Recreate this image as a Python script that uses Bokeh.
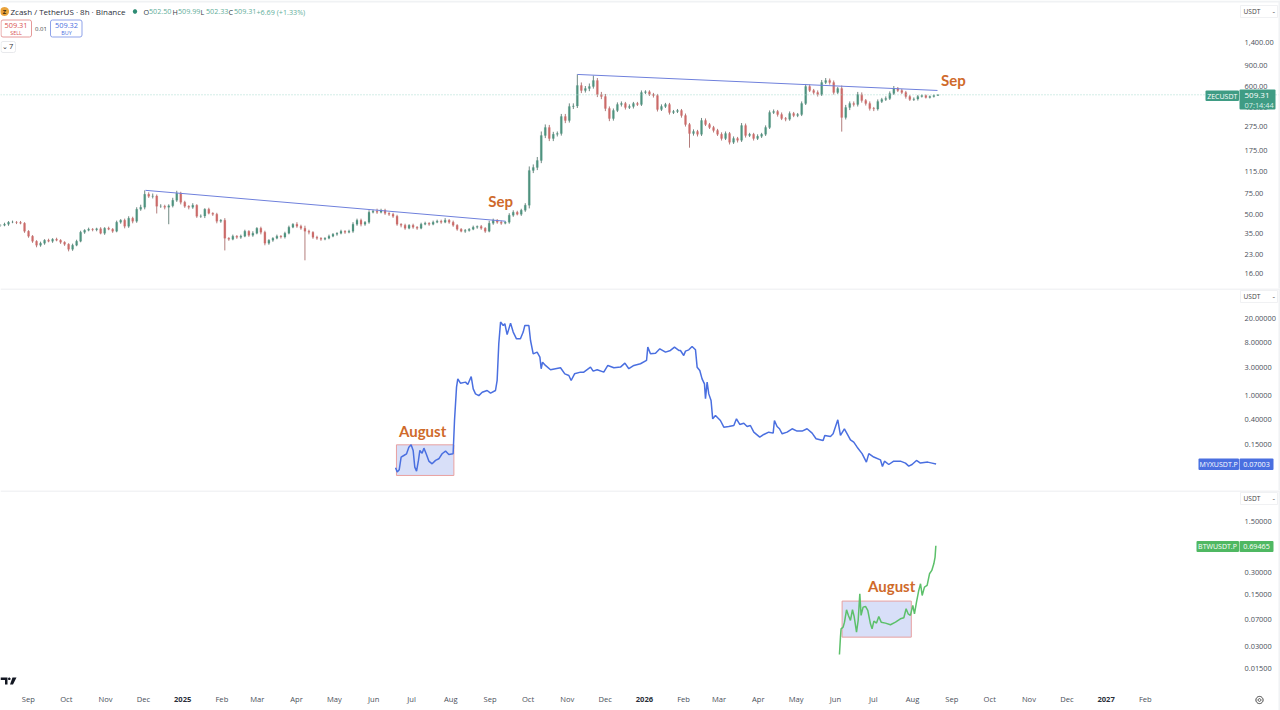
import numpy as np
import pandas as pd
from bokeh.embed import file_html
from bokeh.layouts import column
from bokeh.models import (BoxAnnotation, ColumnDataSource, FixedTicker, Label, NumeralTickFormatter,
                          PolyAnnotation, Range1d, Span)
from bokeh.plotting import figure
from bokeh.resources import INLINE
from bokeh.core.properties import value

# ---------------------------------------------------------------- data
start_date = "2024-08-10"
candle_hours = 76

zec_close = [
    40.9, 41.7, 43.4, 43.4, 43.1, 42.5, 36.4, 33.1, 30.0, 27.8,
    28.9, 30.6, 30.0, 31.2, 30.6, 29.4, 28.3, 25.7, 27.8, 30.0,
    35.7, 37.1, 37.9, 37.5, 38.2, 35.0, 38.6, 37.9, 36.4, 43.4,
    45.1, 40.1, 46.8, 44.2, 55.7, 57.9, 74.3, 71.5, 71.9, 59.0,
    59.0, 57.9, 59.5, 66.2, 75.8, 63.7, 59.0, 57.9, 60.2, 48.6,
    48.9, 55.7, 51.5, 50.5, 44.2, 45.1, 31.8, 31.2, 33.1, 32.4,
    33.1, 36.4, 33.7, 35.0, 38.6, 35.7, 28.9, 30.6, 31.8, 33.1,
    32.6, 35.0, 39.4, 41.7, 40.1, 38.6, 36.4, 35.7, 32.4, 31.8,
    31.2, 31.8, 33.1, 34.4, 35.0, 36.4, 35.7, 36.4, 41.7, 45.1,
    41.7, 43.4, 52.5, 53.6, 52.5, 54.6, 51.5, 50.5, 48.6, 41.7,
    40.9, 38.6, 40.9, 39.4, 38.6, 41.7, 42.5, 41.7, 43.4, 44.2,
    43.4, 45.1, 43.4, 40.9, 37.9, 36.4, 36.9, 37.9, 39.4, 39.9,
    38.6, 36.4, 42.5, 45.1, 43.4, 42.5, 43.4, 49.6, 52.5, 50.5,
    54.6, 60.2, 118, 125, 143, 232, 271, 219, 237, 241,
    335, 310, 407, 411, 610, 554, 575, 598, 671, 513,
    493, 391, 322, 376, 423, 431, 399, 407, 431, 423,
    533, 540, 513, 503, 384, 407, 423, 362, 369, 376,
    341, 287, 241, 251, 237, 310, 287, 271, 256, 237,
    219, 241, 203, 219, 211, 281, 232, 237, 219, 228,
    237, 271, 362, 369, 348, 322, 318, 355, 341, 348,
    431, 598, 554, 533, 513, 646, 671, 646, 533, 575,
    329, 399, 431, 423, 513, 456, 431, 391, 387, 448,
    466, 475, 523, 575, 554, 533, 493, 466, 470, 493,
    503, 484, 493, 503, 509.31,
]
zec_upper_wick_pct = [
    2, 3, 2, 3, 2, 3, 2, 2, 2, 2,
    3, 2, 3, 2, 3, 2, 2, 2, 3, 3,
    3, 2, 3, 2, 2, 3, 2, 3, 2, 3,
    2, 3, 4, 3, 4, 5, 8, 4, 5, 3,
    4, 3, 3, 5, 5, 3, 3, 2, 4, 2,
    3, 2, 3, 2, 3, 2, 4, 2, 3, 2,
    3, 3, 2, 4, 2, 3, 3, 2, 2, 3,
    2, 3, 3, 2, 4, 3, 5, 3, 2, 3,
    2, 2, 3, 2, 2, 3, 2, 3, 4, 3,
    3, 2, 4, 3, 5, 3, 3, 2, 3, 3,
    2, 3, 2, 3, 2, 3, 3, 2, 3, 3,
    3, 4, 2, 3, 2, 2, 3, 2, 3, 2,
    3, 2, 5, 3, 2, 3, 2, 4, 4, 3,
    3, 4, 8, 6, 7, 8, 6, 5, 5, 4,
    5, 5, 6, 5, 24, 6, 5, 6, 10, 5,
    5, 5, 4, 4, 4, 4, 3, 4, 3, 3,
    4, 3, 3, 3, 3, 4, 3, 3, 3, 3,
    3, 4, 3, 4, 3, 5, 4, 3, 3, 3,
    4, 4, 3, 4, 3, 5, 4, 3, 3, 4,
    3, 4, 4, 4, 3, 4, 3, 4, 3, 3,
    4, 5, 4, 3, 4, 5, 5, 4, 4, 3,
    6, 5, 4, 4, 5, 4, 3, 4, 3, 4,
    3, 4, 4, 5, 3, 3, 3, 3, 3, 3,
    2, 2, 2, 2, 1,
]
zec_lower_wick_pct = [
    3, 2, 3, 2, 3, 2, 3, 3, 3, 4,
    3, 3, 2, 3, 2, 3, 3, 4, 3, 2,
    2, 3, 2, 3, 3, 2, 3, 2, 3, 2,
    3, 4, 3, 4, 3, 3, 4, 3, 4, 13,
    3, 4, 28, 3, 3, 4, 3, 4, 3, 3,
    3, 4, 2, 3, 4, 3, 21, 3, 2, 3,
    3, 2, 3, 3, 2, 4, 4, 3, 3, 2,
    3, 3, 2, 2, 3, 3, 43, 4, 3, 3,
    3, 2, 2, 2, 3, 2, 3, 2, 3, 3,
    4, 3, 3, 2, 3, 2, 3, 3, 3, 3,
    4, 3, 2, 3, 3, 2, 2, 3, 2, 2,
    3, 2, 3, 3, 3, 2, 3, 2, 2, 3,
    3, 3, 2, 3, 3, 3, 2, 3, 3, 2,
    3, 3, 6, 5, 5, 5, 5, 5, 5, 4,
    4, 5, 4, 5, 4, 5, 4, 5, 4, 5,
    5, 5, 5, 4, 3, 4, 4, 3, 4, 3,
    3, 3, 3, 4, 4, 3, 3, 4, 3, 3,
    4, 4, 24, 4, 4, 3, 3, 3, 4, 3,
    4, 3, 4, 3, 4, 3, 4, 3, 4, 3,
    3, 3, 3, 3, 4, 3, 4, 3, 3, 3,
    3, 3, 3, 4, 4, 3, 3, 4, 4, 3,
    24, 4, 5, 4, 4, 4, 4, 4, 4, 3,
    3, 3, 3, 3, 3, 3, 4, 3, 3, 3,
    2, 2, 2, 2, 1,
]
trend1_days = [114.6, 399.2]
trend1_price = [80.3, 44.2]
trend2_days = [456.0, 740.7]
trend2_price = [755, 554]

myx_days = [
    312.3, 313.6, 315.2, 316.7, 318.8, 321, 322.8, 324.6, 326.2, 327.5, 328.9, 330.4, 331.5, 333.3, 334.7,
    336.5, 338.6, 341.2, 343.9, 346.5, 349.1, 351.8, 354.4, 357.8, 358.9, 360.5, 361.5, 363.6, 367.6, 369.4,
    372.1, 373.7, 375.5, 378.1, 380.8, 384.7, 387.4, 391.3, 392.6, 393.9, 395.3, 397.4, 398.7, 400.5, 403.2,
    405.3, 407.9, 411, 413.2, 414.5, 417.7, 419, 421.1, 424.2, 426.4, 427.4, 428.5, 430.8, 434.8, 438.7,
    442.7, 446.1, 449.3, 451.1, 453.8, 458.5, 461.1, 466.4, 468.5, 471.7, 476.9, 480.1, 484.9, 490.1, 493.6,
    496.7, 500.7, 505.9, 510.7, 511.7, 513.8, 517.8, 521.2, 525.7, 529.6, 532.8, 536.2,
    537.5, 540.1, 541.5, 544.1, 546.7, 549.4, 550.7, 552.8, 554.6, 556.5, 557.3, 558.6, 559.9, 561.7, 563,
    565.2, 569.1, 571.8, 575.7, 579.7, 581.8, 584.4, 587.6, 590.2, 592.8, 595.5, 600.2, 603.4, 607.3, 610.8,
    611.8, 613.9, 615.8, 617.9, 621.8, 625.8, 629.7, 633.7, 637.6, 641.6, 644.7, 650.3, 651.6, 656.1, 658.2,
    661.9, 664, 667.1, 669.3, 671.9, 674.5, 677.2, 681.1, 684.5, 686.4, 690.3, 695.6, 697.2, 698.8, 702.2,
    706.1, 711.4, 715.4, 718, 720.6, 724.1, 727.2, 733, 736.4, 739.6,
]
myx_price = [
    .0606, .0513, .0562, .0918, .0977, .1045, .135, .148, .119, .0622, .0532, .0808, .119, .107, .130,
    .1045, .0787, .0707, .0808, .086, .1045, .116, .1016, .1045, .381, 1.39, 1.92, 1.62, 1.69, 1.54,
    2.10, 1.30, 1.07, 1.00, 1.14, 1.22, 1.10, 1.22, 1.80, 7.48, 17.4, 15.2, 16.3, 10.7, 16.7,
    11.8, 9.08, 9.08, 11.8, 15.2, 15.2, 8.5, 5.07, 5.42, 4.46, 2.84, 3.67, 3.23, 2.73, 2.84,
    2.95, 2.33, 2.19, 1.80, 2.33, 2.49, 2.49, 3.03, 2.59, 2.73, 2.49, 3.23, 2.95, 3.03, 3.53,
    2.84, 3.23, 3.45, 3.92, 6.57, 5.07, 5.20, 6.16, 5.42, 5.78, 6.57, 5.78,
    5.77, 4.75, 5.63, 5.92, 6.74, 5.92, 3.02, 2.65, 1.92, 1.58, .885, 1.69, 1.07, .828, .406,
    .462, .381, .294, .301, .313, .406, .326, .343, .301, .313, .242, .199, .221, .242, .233,
    .381, .301, .276, .227, .242, .276, .252, .252, .276, .233, .187, .175, .213, .205, .227,
    .391, .213, .276, .227, .180, .164, .135, .105, .0756, .105, .092, .0826, .0638, .0785, .0689,
    .0785, .0785, .0727, .0647, .0689, .0806, .0727, .0756, .0727, .07003,
]
btw_days = [
    663.2, 664, 664.5, 666.1, 667.2, 668.8, 670.3, 671.9, 673.5, 674.8, 676.7, 678, 679.3, 680.3, 681.9,
    683.8, 685.6, 687.7, 689, 690.4, 692.5, 694.3, 696.2, 699.6, 703.5, 707.5, 711.4, 714.1, 715.9, 717.5,
    719.3, 721.2, 722.5, 724.1, 725.9, 727.3, 728.6, 730.4, 732.5, 734.4, 736.2, 737.8, 738.8, 739.4,
]
btw_price = [
    .0233, .0400, .0519, .0547, .0639, .0941, .0788, .0674, .0941, .0764, .0468, .0674, .1551, .0788, .1022,
    .1044, .0921, .0607, .0519, .0660, .0620, .0764, .0639, .0620, .0589, .0639, .0709, .0732, .0971, .0829,
    .0788, .1077, .0829, .1195, .1721, .212, .1472, .191, .2012, .2897, .3215, .396, .488, .69465,
]
myx_box_days = [313.0, 358.4]
myx_box_price = [.045, .148]
btw_box_days = [665.3, 720.0]
btw_box_price = [.04, .1234]

zec_ticks = [16, 23, 35, 50, 75, 115, 175, 275, 400, 600, 900, 1400]
myx_ticks = [.15, .4, 1, 3, 8, 20]
btw_ticks = [.015, .03, .07, .15, .3, 1.5]
month_dates = ["2024-09-01", "2024-10-01", "2024-11-01", "2024-12-01", "2025-01-01", "2025-02-01", "2025-03-01",
               "2025-04-01", "2025-05-01", "2025-06-01", "2025-07-01", "2025-08-01", "2025-09-01", "2025-10-01",
               "2025-11-01", "2025-12-01", "2026-01-01", "2026-02-01", "2026-03-01", "2026-04-01", "2026-05-01",
               "2026-06-01", "2026-07-01", "2026-08-01", "2026-09-01", "2026-10-01", "2026-11-01", "2026-12-01",
               "2027-01-01", "2027-02-01"]
month_labels = ["Sep", "Oct", "Nov", "Dec", "2025", "Feb", "Mar", "Apr", "May", "Jun", "Jul", "Aug", "Sep", "Oct",
                "Nov", "Dec", "2026", "Feb", "Mar", "Apr", "May", "Jun", "Jul", "Aug", "Sep", "Oct", "Nov", "Dec",
                "2027", "Feb"]

# ---------------------------------------------------------------- helpers
DAY_MS = 86400000.0
T0 = pd.Timestamp(start_date).value / 1e6
PX_PER_DAY = 1.265
FRAME_W = 1280
SCALE_X = 1238
FONT = "Open Sans"
TICK_COLOR = "#4a4f5a"
ORANGE = "#cf6a2b"
BLUE = "#4a6fe0"
GREEN = "#5cc06a"
TEAL = "#3f9c84"


def ms(days):
    return T0 + np.asarray(days, dtype=float) * DAY_MS


shared_x = Range1d(float(ms(0)), float(ms(FRAME_W / PX_PER_DAY)))
scale_location = float(ms(SCALE_X / PX_PER_DAY))


def make_pane(top, bottom, y_top, y_bottom, ticks, fmt, with_axis=False):
    fig = figure(frame_width=FRAME_W, frame_height=bottom - top,
                 x_range=shared_x, y_range=Range1d(y_bottom, y_top), y_axis_type="log", y_axis_location="right",
                 x_axis_type="datetime", x_axis_location="below" if with_axis else None,
                 toolbar_location=None, output_backend="svg", min_border_left=0, min_border_right=0,
                 min_border_top=0, min_border_bottom=0, background_fill_color="white")
    fig.outline_line_color = None
    fig.grid.visible = False
    ax = fig.yaxis[0]
    ax.fixed_location = scale_location
    ax.ticker = FixedTicker(ticks=ticks)
    ax.formatter = NumeralTickFormatter(format=fmt)
    ax.axis_line_color = None
    ax.major_tick_line_color = None
    ax.minor_tick_line_color = None
    ax.major_label_standoff = 0
    ax.major_label_text_font = FONT
    ax.major_label_text_font_size = "7.4px"
    ax.major_label_text_color = TICK_COLOR
    return fig


def txt(fig, top, bottom, x, y, s, size="8px", color="#333333", align="left", style="normal", font=FONT):
    fig.add_layout(Label(x=x, y=(bottom - top) - (y - top), x_units="screen", y_units="screen", text=s,
                         text_font=font, text_font_size=size, text_color=color, text_align=align,
                         text_baseline="middle", text_font_style=style))


def box(fig, top, bottom, x0, x1, y0, y1, fill=None, line=None, radius=0, width=1):
    fig.add_layout(BoxAnnotation(left=x0, right=x1, top=(bottom - top) - (y0 - top), bottom=(bottom - top) - (y1 - top),
                                 left_units="screen", right_units="screen", top_units="screen", bottom_units="screen",
                                 fill_color=fill, fill_alpha=1 if fill else 0, line_color=line, line_alpha=1 if line else 0,
                                 line_width=width, border_radius=radius, level="annotation"))


def poly(fig, top, bottom, xs, ys, fill=None, line=None):
    fig.add_layout(PolyAnnotation(xs=[float(v) for v in xs], ys=[float((bottom - top) - (v - top)) for v in ys],
                                  xs_units="screen", ys_units="screen",
                                  fill_color=fill, fill_alpha=1 if fill else 0, line_color=line, line_alpha=1 if line else 0,
                                  line_width=1, level="annotation"))


def ring(cx, cy, r):
    a = np.linspace(0, 2 * np.pi, 25)
    return cx + r * np.cos(a), cy + r * np.sin(a)


def currency(fig, top, bottom, y):
    box(fig, top, bottom, 1240, 1277, y - 6, y + 6, line="#f0f1f3")
    txt(fig, top, bottom, 1243, y, "USDT", size="6.6px", color="#444444")
    txt(fig, top, bottom, 1272, y, "-", size="8px", color="#444444")


# ---------------------------------------------------------------- pane 1: ZEC candles
T1, B1 = 0, 288
p1 = make_pane(T1, B1, 3155, 12.03, zec_ticks, "0,0.00")
close = np.array(zec_close, dtype=float)
open_ = np.r_[close[0], close[:-1]]
high = np.maximum(open_, close) * (1 + np.array(zec_upper_wick_pct) / 100)
low = np.minimum(open_, close) * (1 - np.array(zec_lower_wick_pct) / 100)
step_days = candle_hours / 24
cx = ms(np.arange(len(close)) * step_days)
candle_w = step_days * DAY_MS * 0.5
up = close >= open_
src = ColumnDataSource(dict(x=cx, open=open_, close=close, high=high, low=low,
                            color=["#4f937f" if u else "#cc6b69" for u in up],
                            wick=["#4a6a62" if u else "#a05c5b" for u in up]))
p1.segment("x", "high", "x", "low", color="wick", line_width=0.8, source=src)
p1.vbar("x", candle_w, "open", "close", fill_color="color", line_color="color", line_width=0.2, source=src)
p1.line(ms(trend1_days), trend1_price, line_color="#6f80dc", line_width=1)
p1.line(ms(trend2_days), trend2_price, line_color="#6f80dc", line_width=1)
p1.add_layout(Span(location=509.31, dimension="width", line_color="#a5dacd", line_dash="1 2", line_width=1))
for x_day, price, label in [(385.6, 65.0, "Sep"), (743.5, 672, "Sep")]:
    p1.text([float(ms(x_day))], [price], text=[label], text_font=value("Lato"), text_font_style="bold",
            text_font_size="15px", text_color=ORANGE, text_baseline="middle")

box(p1, T1, B1, 0, 1280, 0, 2, fill="#f0f2f4")
box(p1, T1, B1, 1278, 1280, 0, 288, fill="#f0f2f4")
# header
xs, ys = ring(4, 11, 4.5)
poly(p1, T1, B1, xs, ys, fill="#e9a23b")
txt(p1, T1, B1, 2.2, 11, "Z", size="6px", color="#3a2a10", style="bold")
txt(p1, T1, B1, 10, 11, "Zcash / TetherUS · 8h · Binance", size="8px", color="#2a2e39")
xs, ys = ring(134.5, 11, 2.2)
poly(p1, T1, B1, xs, ys, fill="#2e8c74")
for x, lab, val in [(143, "O", "502.50"), (172, "H", "509.99"), (200, "L", "502.33"), (228, "C", "509.31")]:
    txt(p1, T1, B1, x, 11, lab, size="7.2px", color="#333b44")
    txt(p1, T1, B1, x + 5.5, 11, val, size="7.2px", color="#5fae9a")
txt(p1, T1, B1, 256, 11, "+6.69 (+1.33%)", size="7.2px", color="#5fae9a")
box(p1, T1, B1, 0.5, 31, 19.5, 36.5, fill="white", line="#e59a9a", radius=2)
txt(p1, T1, B1, 15.5, 24.5, "509.31", size="7.4px", color="#d9534f", align="center")
txt(p1, T1, B1, 15.5, 32, "SELL", size="5.4px", color="#d9534f", align="center")
txt(p1, T1, B1, 40.5, 28, "0.01", size="6px", color="#444444", align="center")
box(p1, T1, B1, 50, 81.5, 19.5, 36.5, fill="white", line="#8fa3ea", radius=2)
txt(p1, T1, B1, 66, 24.5, "509.32", size="7.4px", color="#4a6fe0", align="center")
txt(p1, T1, B1, 66, 32, "BUY", size="5.4px", color="#4a6fe0", align="center")
box(p1, T1, B1, 0.5, 15, 41, 52, fill="white", line="#e8e9ec", radius=2)
txt(p1, T1, B1, 4.5, 46, "⌄", size="7px", color="#333333", align="center")
txt(p1, T1, B1, 8.5, 46, "7", size="7.5px", color="#333333")
currency(p1, T1, B1, 11)
# last price tags
box(p1, T1, B1, 1205, 1238.5, 90, 100.5, fill=TEAL, radius=1)
txt(p1, T1, B1, 1221.8, 95.5, "ZECUSDT", size="7px", color="white", align="center")
box(p1, T1, B1, 1239, 1275, 89, 109, fill=TEAL, radius=1)
txt(p1, T1, B1, 1244, 94.5, "509.31", size="8px", color="white")
txt(p1, T1, B1, 1244, 104, "07:14:44", size="7.4px", color="#d8efe9")

# ---------------------------------------------------------------- pane 2: MYX line
T2, B2 = 288, 490
p2 = make_pane(T2, B2, 64.1, 0.0251, myx_ticks, "0.00000")
p2.add_layout(BoxAnnotation(left=float(ms(myx_box_days[0])), right=float(ms(myx_box_days[1])),
                            bottom=myx_box_price[0], top=myx_box_price[1], fill_color="#d8dff8", fill_alpha=1,
                            line_color="#e8a0a0", line_alpha=1, line_width=1, level="underlay"))
p2.line(ms(myx_days), myx_price, line_color=BLUE, line_width=1.5)
p2.text([float(ms(315.0))], [0.258], text=["August"], text_font=value("Lato"), text_font_style="bold",
        text_font_size="15px", text_color=ORANGE, text_baseline="middle")
box(p2, T2, B2, 0, 1280, 288, 289, fill="#e6e8eb")
box(p2, T2, B2, 1278, 1280, 288, 490, fill="#f0f2f4")
currency(p2, T2, B2, 296)
box(p2, T2, B2, 1198, 1238.5, 458, 469.5, fill=BLUE, radius=1)
txt(p2, T2, B2, 1218.2, 463.8, "MYXUSDT.P", size="7px", color="white", align="center")
box(p2, T2, B2, 1239, 1273, 458, 469.5, fill=BLUE, radius=1)
txt(p2, T2, B2, 1256, 463.8, "0.07003", size="7.2px", color="white", align="center")

# ---------------------------------------------------------------- pane 3: BTW line + time axis
T3, B3 = 490, 710
p3 = make_pane(T3, B3, 3.91, 0.00404, btw_ticks, "0.00000", with_axis=True)
p3.add_layout(BoxAnnotation(left=float(ms(btw_box_days[0])), right=float(ms(btw_box_days[1])),
                            bottom=btw_box_price[0], top=btw_box_price[1], fill_color="#d8dff8", fill_alpha=1,
                            line_color="#e8a0a0", line_alpha=1, line_width=1, level="underlay"))
p3.line(ms(btw_days), btw_price, line_color=GREEN, line_width=1.5)
p3.text([float(ms(685.8))], [0.195], text=["August"], text_font=value("Lato"), text_font_style="bold",
        text_font_size="15px", text_color=ORANGE, text_baseline="middle")
xa = p3.xaxis[0]
xa.fixed_location = 0.00828
tick_ms = [float(pd.Timestamp(d).value / 1e6) for d in month_dates]
month_ticks = [t for t, l in zip(tick_ms, month_labels) if not l.isdigit()]
xa.ticker = FixedTicker(ticks=month_ticks)
xa.major_label_overrides = {t: l for t, l in zip(tick_ms, month_labels) if not l.isdigit()}
xa.axis_line_color = None
xa.major_tick_line_color = None
xa.minor_tick_line_color = None
xa.major_label_standoff = 0
xa.major_label_text_font = FONT
xa.major_label_text_font_size = "7.6px"
xa.major_label_text_color = TICK_COLOR
for t, l in zip(tick_ms, month_labels):
    if l.isdigit():
        p3.add_layout(Label(x=t, x_units="data", y=11, y_units="screen", text=l, text_font=FONT, text_font_size="7.6px",
                            text_font_style="bold", text_color="#2a2e39", text_align="center", text_baseline="middle"))
box(p3, T3, B3, 0, 1280, 490, 491, fill="#e6e8eb")
box(p3, T3, B3, 1278, 1280, 490, 710, fill="#f0f2f4")
currency(p3, T3, B3, 498)
box(p3, T3, B3, 1196, 1238.5, 540.5, 551.5, fill="#4fb862", radius=1)
txt(p3, T3, B3, 1217, 546, "BTWUSDT.P", size="7px", color="white", align="center")
box(p3, T3, B3, 1239, 1273, 540.5, 551.5, fill="#4fb862", radius=1)
txt(p3, T3, B3, 1256, 546, "0.69465", size="7.2px", color="white", align="center")
# chart-provider mark and settings mark
poly(p3, T3, B3, [0, 7, 7, 4.5, 4.5, 0], [677, 677, 684, 684, 679.5, 679.5], fill="#131722")
xs, ys = ring(8.8, 678.3, 1.3)
poly(p3, T3, B3, xs, ys, fill="#131722")
poly(p3, T3, B3, [12, 16, 12.5, 9.5], [677, 677, 684, 684], fill="#131722")
xs, ys = ring(1259, 699.5, 3.6)
poly(p3, T3, B3, xs, ys, line="#444444")
xs, ys = ring(1259, 699.5, 1.4)
poly(p3, T3, B3, xs, ys, line="#444444")

layout = column(p1, p2, p3, spacing=0, width=1280, height=710, styles={"overflow": "hidden"})
open("out.html", "w").write(file_html(layout, INLINE))
